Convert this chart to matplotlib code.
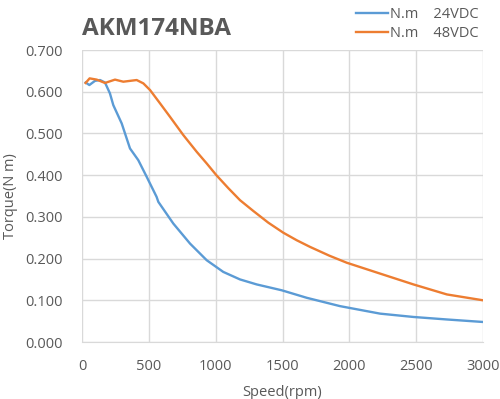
import matplotlib
matplotlib.use("Agg")
import matplotlib.pyplot as plt

plt.rcParams['font.family'] = ['Open Sans', 'DejaVu Sans']

# 24VDC curve
speed_24 = [27, 55, 97, 135, 172, 209, 234, 297, 359, 421, 484, 558, 571, 683, 808,
            933, 1057, 1182, 1307, 1494, 1681, 1930, 2230, 2480, 2730, 3000]
torque_24 = [0.622, 0.616, 0.626, 0.628, 0.622, 0.596, 0.568, 0.524, 0.464, 0.436, 0.396,
             0.348, 0.336, 0.284, 0.236, 0.196, 0.168, 0.150, 0.138, 0.124, 0.106, 0.086,
             0.068, 0.060, 0.054, 0.048]

# 48VDC curve
speed_48 = [27, 57, 110, 172, 247, 309, 409, 459, 509, 584, 658, 758, 858, 933, 1005,
            1094, 1182, 1282, 1394, 1506, 1606, 1706, 1850, 1981, 2230, 2480, 2730, 3000]
torque_48 = [0.621, 0.632, 0.629, 0.621, 0.629, 0.624, 0.628, 0.620, 0.604, 0.572, 0.540,
             0.496, 0.456, 0.428, 0.400, 0.369, 0.340, 0.314, 0.286, 0.262, 0.244, 0.228,
             0.207, 0.190, 0.164, 0.138, 0.114, 0.100]

xticks = [0, 500, 1000, 1500, 2000, 2500, 3000]
yticks = [0.0, 0.1, 0.2, 0.3, 0.4, 0.5, 0.6, 0.7]

gray = '#595959'
grid_c = '#D9D9D9'

fig = plt.figure(figsize=(5.0, 3.99), dpi=100)
ax = fig.add_axes([82 / 500, 1 - 342 / 399, 401 / 500, 292 / 399])

ax.plot(speed_24, torque_24, color='#5B9BD5', lw=1.7, label='N.m    24VDC')
ax.plot(speed_48, torque_48, color='#ED7D31', lw=1.7, label='N.m    48VDC')

ax.set_xlim(0, 3000)
ax.set_ylim(0, 0.7)
ax.set_xticks(xticks)
ax.set_yticks(yticks)
ax.set_yticklabels(['%.3f' % v for v in yticks])
ax.grid(True, color=grid_c, lw=1)
ax.set_axisbelow(True)
for s in ['top', 'right', 'left']:
    ax.spines[s].set_visible(False)
ax.spines['bottom'].set_color(grid_c)
ax.tick_params(length=0, colors=gray, labelsize=10.5)
ax.tick_params(axis='y', pad=14)
ax.tick_params(axis='x', pad=12)

ax.set_xlabel('Speed(rpm)', color=gray, fontsize=10.5, labelpad=8)
ax.set_ylabel('Torque(N m)', color=gray, fontsize=10.5, labelpad=5)

fig.text(82 / 500, 1 - 29 / 399, 'AKM174NBA', fontsize=17.5, fontweight='bold',
         color=gray, va='center', ha='left')

leg = fig.legend(loc='upper left', bbox_to_anchor=(343 / 500, 1.015), frameon=False,
                 fontsize=10.5, handlelength=2.2, handletextpad=0.1, labelspacing=0.25)
for t in leg.get_texts():
    t.set_color(gray)

fig.savefig('out.png', dpi=100)
